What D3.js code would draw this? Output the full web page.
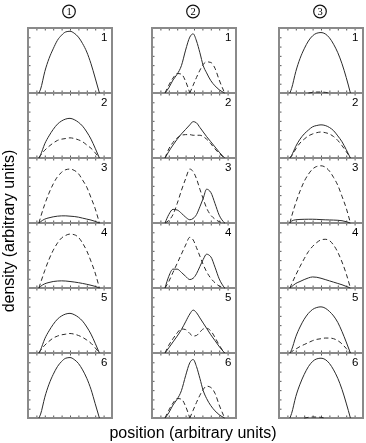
<!DOCTYPE html>
<html>
<head>
<meta charset="utf-8">
<script src="https://cdn.jsdelivr.net/npm/d3@7"></script>
<style>
  html, body { margin: 0; padding: 0; background: #fff; }
  svg { display: block; will-change: transform; }
</style>
</head>
<body>
<svg id="chart" width="366" height="443"></svg>
<script>
// ---------------- data ----------------
const columnLabels = ["1", "2", "3"];
const panelLabels = ["1", "2", "3", "4", "5", "6"];
const xTicks = [0.1, 0.2, 0.3, 0.4, 0.5, 0.6, 0.7, 0.8, 0.9];
const yTicks = [1/7, 2/7, 3/7, 4/7, 5/7, 6/7];

// positions sampled for columns 1 and 3
const xGridA = [0.13, 0.15, 0.2, 0.25, 0.3, 0.35, 0.4, 0.45, 0.5, 0.55, 0.6, 0.65, 0.7, 0.75, 0.8, 0.85];
// positions sampled for column 2
const xGridB = [0.155, 0.2, 0.25, 0.3, 0.35, 0.4, 0.45, 0.49, 0.53, 0.57, 0.61, 0.65, 0.7, 0.75, 0.8, 0.865];

const col1Solid = [
  [0, .06, .33, .53, .68, .81, .89, .94, .95, .92, .86, .76, .63, .45, .23, 0],
  [0, .05, .22, .34, .44, .52, .57, .60, .61, .59, .55, .49, .40, .29, .15, 0],
  [0, .02, .06, .08, .095, .105, .11, .11, .105, .10, .09, .075, .06, .045, .025, 0],
  [0, .025, .065, .085, .10, .107, .11, .107, .10, .092, .082, .07, .057, .042, .025, 0],
  [0, .05, .22, .34, .44, .52, .57, .60, .61, .59, .55, .49, .40, .29, .15, 0],
  [0, .06, .32, .52, .67, .79, .87, .92, .93, .90, .84, .74, .61, .44, .22, 0]
];
const col1Dashed = [
  null,
  [0, .04, .12, .18, .23, .27, .29, .30, .31, .30, .28, .25, .20, .15, .08, 0],
  [0, .09, .29, .46, .60, .71, .78, .82, .83, .81, .76, .66, .55, .39, .22, 0],
  [0, .08, .27, .44, .58, .69, .77, .81, .83, .82, .78, .69, .57, .41, .23, 0],
  [0, .04, .12, .18, .23, .26, .28, .29, .30, .29, .27, .24, .20, .15, .08, 0],
  null
];

const col2Solid = [
  [0, .08, .20, .29, .42, .66, .86, .91, .80, .62, .42, .31, .19, .11, .05, 0],
  [0, .10, .20, .29, .37, .44, .51, .56, .54, .47, .40, .33, .25, .17, .09, 0],
  [0, .13, .21, .20, .15, .09, .05, .07, .13, .25, .38, .52, .47, .30, .12, 0],
  [0, .18, .29, .29, .24, .18, .13, .15, .22, .33, .44, .52, .48, .32, .14, 0],
  [0, .08, .17, .26, .36, .48, .60, .66, .62, .54, .46, .38, .28, .19, .10, 0],
  [0, .08, .20, .29, .42, .65, .85, .90, .79, .61, .42, .30, .19, .11, .05, 0]
];
const col2Dashed = [
  [0, .12, .23, .30, .29, .18, 0, .12, .24, .35, .44, .48, .47, .38, .20, 0],
  [0, .14, .24, .31, .35, .36, .36, .35, .35, .35, .33, .29, .22, .14, .07, 0],
  [0, .04, .13, .30, .50, .68, .83, .79, .68, .52, .37, .23, .12, .06, .02, 0],
  [0, .10, .24, .38, .52, .66, .78, .74, .62, .49, .36, .25, .15, .08, .03, 0],
  [0, .12, .22, .31, .37, .36, .30, .26, .27, .32, .37, .38, .34, .24, .12, 0],
  [0, .12, .23, .30, .29, .18, 0, .12, .24, .35, .44, .49, .47, .38, .20, 0]
];

const col3Solid = [
  [0, .07, .33, .53, .68, .80, .88, .92, .93, .91, .85, .75, .62, .45, .24, 0],
  [0, .04, .18, .29, .37, .43, .48, .50, .51, .50, .47, .42, .34, .25, .13, 0],
  [0, .03, .05, .055, .057, .058, .058, .056, .052, .049, .047, .045, .042, .035, .02, 0],
  [0, .02, .07, .10, .13, .155, .17, .165, .15, .13, .11, .09, .07, .05, .025, 0],
  [0, .05, .25, .40, .52, .61, .67, .70, .71, .69, .64, .57, .47, .33, .17, 0],
  [0, .07, .33, .52, .67, .79, .87, .91, .92, .90, .84, .74, .61, .44, .23, 0]
];
const col3Dashed = [
  [0, 0, 0, 0, 0, 0, .01, .015, .015, .01, 0, 0, 0, 0, 0, 0],
  [0, .03, .14, .23, .29, .34, .37, .39, .40, .39, .37, .33, .27, .19, .10, 0],
  [0, .10, .31, .49, .64, .75, .83, .87, .88, .86, .80, .70, .58, .41, .23, 0],
  [0, .06, .20, .33, .45, .56, .64, .70, .74, .75, .73, .66, .55, .40, .22, 0],
  [0, .02, .06, .10, .13, .16, .19, .21, .22, .23, .23, .22, .19, .14, .07, 0],
  [0, 0, 0, 0, 0, .01, .015, .015, .01, 0, 0, 0, 0, 0, 0, 0]
];

const columns = [
  { grid: xGridA, solid: col1Solid, dashed: col1Dashed },
  { grid: xGridB, solid: col2Solid, dashed: col2Dashed },
  { grid: xGridA, solid: col3Solid, dashed: col3Dashed }
];

// ---------------- layout ----------------
const colLeft = [28, 152, 279];
const panelW = 84, panelH = 65, top0 = 28;
const frameColor = "#8a8a8a";
const lineColor = "#2a2a2a";

const svg = d3.select("#chart");
const x = d3.scaleLinear().domain([0, 1]).range([0, panelW]);
const y = d3.scaleLinear().domain([0, 1]).range([panelH, 0]);

function segments(xs, ys) {
  const out = [];
  let cur = null;
  for (let i = 0; i < xs.length; i++) {
    const keep = ys[i] > 0 || (i > 0 && ys[i - 1] > 0) || (i < ys.length - 1 && ys[i + 1] > 0);
    if (keep) {
      if (!cur) { cur = []; out.push(cur); }
      cur.push([xs[i], ys[i]]);
      if (ys[i] === 0 && cur.length > 1) { cur = null; if (i < ys.length - 1 && ys[i + 1] > 0) { cur = [[xs[i], ys[i]]]; out.push(cur); } }
    } else {
      cur = null;
    }
  }
  return out.filter(s => s.length > 1);
}

const line = d3.line().x(d => x(d[0])).y(d => y(d[1])).curve(d3.curveMonotoneX);

// frames and ticks
columns.forEach((col, c) => {
  panelLabels.forEach((lab, p) => {
    const g = svg.append("g").attr("transform", `translate(${colLeft[c]},${top0 + p * panelH})`);
    const axB = g.append("g").attr("transform", `translate(0,${panelH})`)
      .call(d3.axisBottom(x).tickValues(xTicks).tickSize(-2.5).tickFormat(""));
    const axT = g.append("g")
      .call(d3.axisTop(x).tickValues(xTicks).tickSize(-2.5).tickFormat(""));
    const axL = g.append("g")
      .call(d3.axisLeft(y).tickValues(yTicks).tickSize(-2.5).tickFormat(""));
    [axB, axT, axL].forEach(a => {
      a.select(".domain").remove();
      a.selectAll("line").attr("stroke", "#555").attr("stroke-width", 1);
    });
    g.append("rect").attr("x", 0).attr("y", 0).attr("width", panelW).attr("height", panelH)
      .attr("fill", "none").attr("stroke", frameColor).attr("stroke-width", 2);
  });
});

// curves and panel numbers
columns.forEach((col, c) => {
  panelLabels.forEach((lab, p) => {
    const g = svg.append("g").attr("transform", `translate(${colLeft[c]},${top0 + p * panelH})`);
    const dashed = col.dashed[p];
    if (dashed) {
      segments(col.grid, dashed).forEach(seg => {
        g.append("path").attr("d", line(seg)).attr("fill", "none")
          .attr("stroke", lineColor).attr("stroke-width", 1).attr("stroke-dasharray", "4.5,3");
      });
    }
    segments(col.grid, col.solid[p]).forEach(seg => {
      g.append("path").attr("d", line(seg)).attr("fill", "none")
        .attr("stroke", lineColor).attr("stroke-width", 1);
    });
    g.append("text").attr("x", panelW - 4.5).attr("y", 13)
      .attr("text-anchor", "end")
      .attr("font-family", "Liberation Sans, Arial, sans-serif")
      .attr("font-size", 11.5).attr("fill", "#000").text(lab);
  });
  // circled column header
  const cx = colLeft[c] + panelW / 2 - 1;
  svg.append("circle").attr("cx", cx).attr("cy", 11.5).attr("r", 6.3)
    .attr("fill", "none").attr("stroke", "#111").attr("stroke-width", 1.2);
  svg.append("text").attr("x", cx).attr("y", 15.3).attr("text-anchor", "middle")
    .attr("font-family", "Liberation Serif, Times New Roman, serif")
    .attr("font-size", 10.5).attr("fill", "#000").text(columnLabels[c]);
});

// axis titles
svg.append("text")
  .attr("transform", "translate(13.5,231) rotate(-90)")
  .attr("text-anchor", "middle")
  .attr("font-family", "Liberation Sans, Arial, sans-serif")
  .attr("font-size", 16).attr("fill", "#000")
  .text("density (arbitrary units)");
svg.append("text")
  .attr("x", 193).attr("y", 438)
  .attr("text-anchor", "middle")
  .attr("font-family", "Liberation Sans, Arial, sans-serif")
  .attr("font-size", 16).attr("fill", "#000")
  .text("position (arbitrary units)");
</script>
</body>
</html>
